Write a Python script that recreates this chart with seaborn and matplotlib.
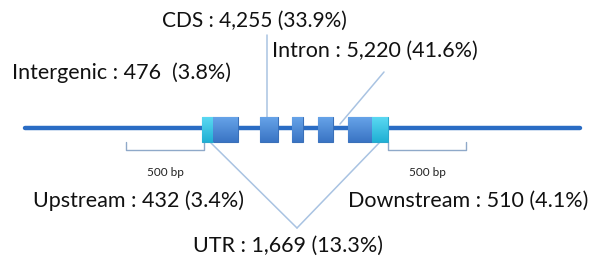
import numpy as np
import pandas as pd
import seaborn as sns
import matplotlib.pyplot as plt
from matplotlib.colors import LinearSegmentedColormap

# gene model (pixel-like coordinates of the diagram)
exon_start = [213, 260, 292, 318, 348]
exon_end = [238, 278, 303, 333, 372]
utr_start = [202, 372]
utr_end = [213, 388]
box_top, box_bottom = 117, 142
line_x = [25, 580]
line_y = 128

labels = ["CDS : 4,255 (33.9%)", "Intron : 5,220 (41.6%)", "Intergenic : 476  (3.8%)",
          "Upstream : 432 (3.4%)", "Downstream : 510 (4.1%)", "UTR : 1,669 (13.3%)"]
label_x = [162, 272, 12, 33, 348, 193]
label_y = [21, 51, 73, 201, 201, 246]
label_size = [15, 15.5, 15.5, 15.5, 15.5, 15.5]

# pointer lines: (x0, y0, x1, y1)
pointers = [(267, 35, 267, 117), (384, 72, 340, 124),
            (210, 142, 297, 228), (380, 142, 297, 228)]
brackets = [(126, 204), (388, 466)]
bracket_y = 150

sns.set_style("white")
plt.rcParams['font.family'] = ['Lato', 'DejaVu Sans']
fig = plt.figure(figsize=(5.93, 2.61), dpi=100)
ax = fig.add_axes([0, 0, 1, 1])

pc = "#a9c3e2"
for x0, y0, x1, y1 in pointers:
    sns.lineplot(x=[x0, x1], y=[y0, y1], ax=ax, color=pc, lw=1.1,
                 sort=False, estimator=None, zorder=1)

for b0, b1 in brackets:
    sns.lineplot(x=[b0, b0, b1, b1], y=[bracket_y - 8, bracket_y, bracket_y, bracket_y - 8],
                 ax=ax, color="#8fa9c9", lw=1.0, sort=False, estimator=None)
    ax.text((b0 + b1) / 2, 173, "500 bp", ha="center", va="center", fontsize=8.5, color="#222222")

sns.lineplot(x=line_x, y=[line_y, line_y], ax=ax, color="#2a6cc4", lw=3.2,
             estimator=None, zorder=2)

ex = pd.DataFrame({"start": exon_start, "end": exon_end})
h = box_bottom - box_top
exon_bars = ax.bar(ex["start"], h, width=ex["end"] - ex["start"], bottom=box_top,
                   align="edge", color="#4a88d6", edgecolor="#3a70b8", lw=0.8, zorder=3)
utr_bars = ax.bar(utr_start, h, width=np.subtract(utr_end, utr_start), bottom=box_top,
                  align="edge", color="#35c4e4", edgecolor="#2ba8cc", lw=0.8, zorder=3)

# soft vertical gradient inside the boxes
grad = np.linspace(0, 1, 64).reshape(-1, 1)
for bars, c0, c1 in [(exon_bars, "#66a3e8", "#3a74c4"), (utr_bars, "#5ad8f2", "#20b0d4")]:
    cmap = LinearSegmentedColormap.from_list("g", [c0, c1])
    for p in bars:
        x, y = p.get_x(), p.get_y()
        im = ax.imshow(grad, cmap=cmap, aspect="auto", zorder=3.5,
                       extent=(x, x + p.get_width(), y + p.get_height(), y))
        im.set_clip_path(p)

for t, x, y, s in zip(labels, label_x, label_y, label_size):
    ax.text(x, y, t, ha="left", va="center", fontsize=s, color="#111111")

ax.set_xlim(0, 593)
ax.set_ylim(261, 0)
ax.axis("off")
fig.savefig("out.png", dpi=100)
